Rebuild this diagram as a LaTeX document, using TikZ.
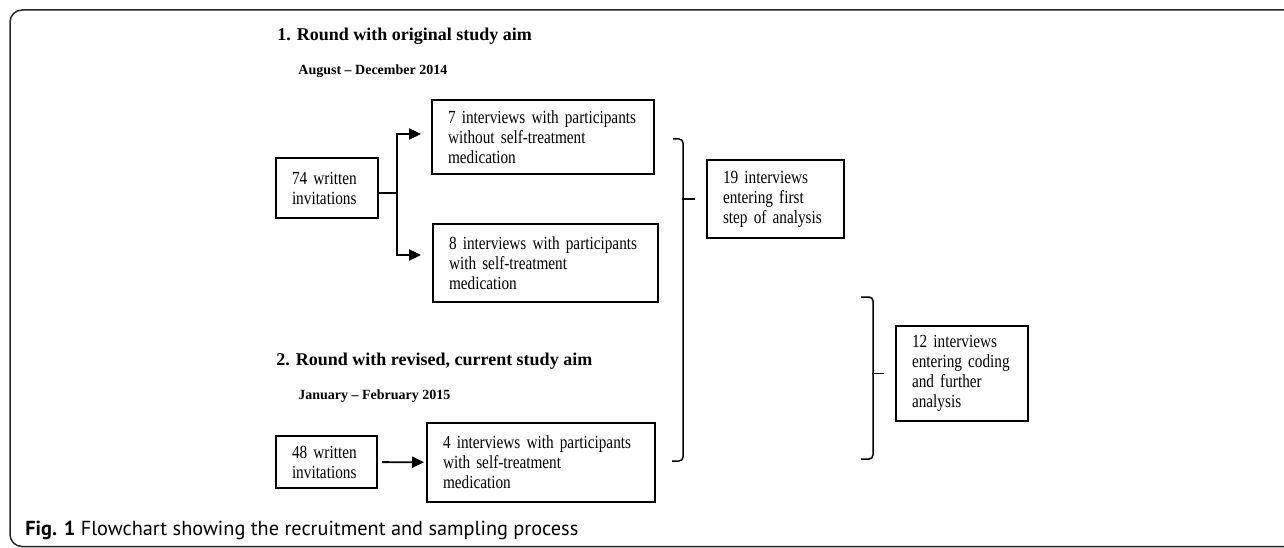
\documentclass[tikz,border=0pt]{standalone}
\usepackage{fontspec}
\setmainfont{Liberation Serif}
\newfontfamily\boxfont[FakeStretch=0.825]{Liberation Serif}
\newfontfamily\capfont{PT Sans}
\usetikzlibrary{positioning,arrows.meta}
\hyphenpenalty=10000

\begin{document}
\begin{tikzpicture}[x=1pt, y=-1pt, thick,
    box/.style={draw, rectangle, line width=1.8pt, align=left, inner xsep=16pt, inner ysep=0pt,
                font=\boxfont\fontsize{18.5}{20}\selectfont},
    head/.style={anchor=base west, inner sep=0pt, font=\fontsize{18}{22}\selectfont\bfseries},
    when/.style={anchor=base west, inner sep=0pt, font=\fontsize{14}{17}\selectfont\bfseries},
    flow/.style={-{Triangle[length=12pt,width=11pt]}, line width=1.8pt},
    brak/.style={line width=1.5pt, rounded corners=4pt}]

      \useasboundingbox (0,0) rectangle (1284,548);
      \clip (0,0) rectangle (1284,548);
      \draw[line width=1.5pt, rounded corners=12pt, black!85] (10,10) rectangle (1300,546.5);

      % first round
      \node[head] (r1) at (277,41) {1. Round with original study aim};
      \node[when] (d1) at (298,75) {August -- December 2014};
      \node[box, text width=70pt, minimum height=60pt] (1) at (327,188) {74 written\\invitations};
      \node[box, text width=190pt, minimum height=74pt] (2) at (543,137) {7~interviews~with~participants\\without self-treatment\\medication};
      \node[box, text width=193pt, minimum height=78pt] (3) at (545.5,263) {8~interviews~with~participants\\with self-treatment\\medication};
      \node[box, text width=105pt, minimum height=78pt] (6) at (775.5,199) {19 interviews\\entering first\\step~of~analysis};

      % second round
      \node[head] (r2) at (276,365) {2. Round with revised, current study aim};
      \node[when] (d2) at (298,399) {January -- February 2015};
      \node[box, text width=69pt, minimum height=52pt] (4) at (326.5,462) {48 written\\invitations};
      \node[box, text width=196pt, minimum height=79pt] (5) at (541,462.5) {4~interviews~with~participants\\with self-treatment\\medication};
      \node[box, text width=100pt, minimum height=95pt] (7) at (962,373.5) {12 interviews\\entering~coding\\and further\\analysis};

      \node[anchor=base west, inner sep=0pt, font=\capfont\fontsize{20.3}{24}\selectfont] (cap) at (25,535)
            {\textbf{Fig. 1} Flowchart showing the recruitment and sampling process};

      \coordinate (j1) at (397,193);
      \draw[flow, shorten >=10pt] ([yshift=-5pt]1.east) -- (j1) |- ([yshift=3pt]2.west);
      \draw[flow, shorten >=11pt] ([yshift=-5pt]1.east) -- (j1) |- ([yshift=8pt]3.west);
      \draw[flow, shorten <=4pt, shorten >=2pt] (4) -- (5);

      % brackets
      \coordinate (b1a) at (673,139);
      \coordinate (b1b) at (672,461);
      \coordinate (b2a) at (861,297);
      \coordinate (b2b) at (861,459);
      \draw[brak] (b1a) -- (683,139) -- (683,461) -- (b1b);
      \draw[brak] ([xshift=-24pt]6.west) -- ([xshift=-11pt]6.west);
      \draw[brak] (b2a) -- (873,297) -- (873,459) -- (b2b);
      \draw[brak] ([xshift=-23pt]7.west) -- ([xshift=-11pt]7.west);

\end{tikzpicture}
\end{document}
